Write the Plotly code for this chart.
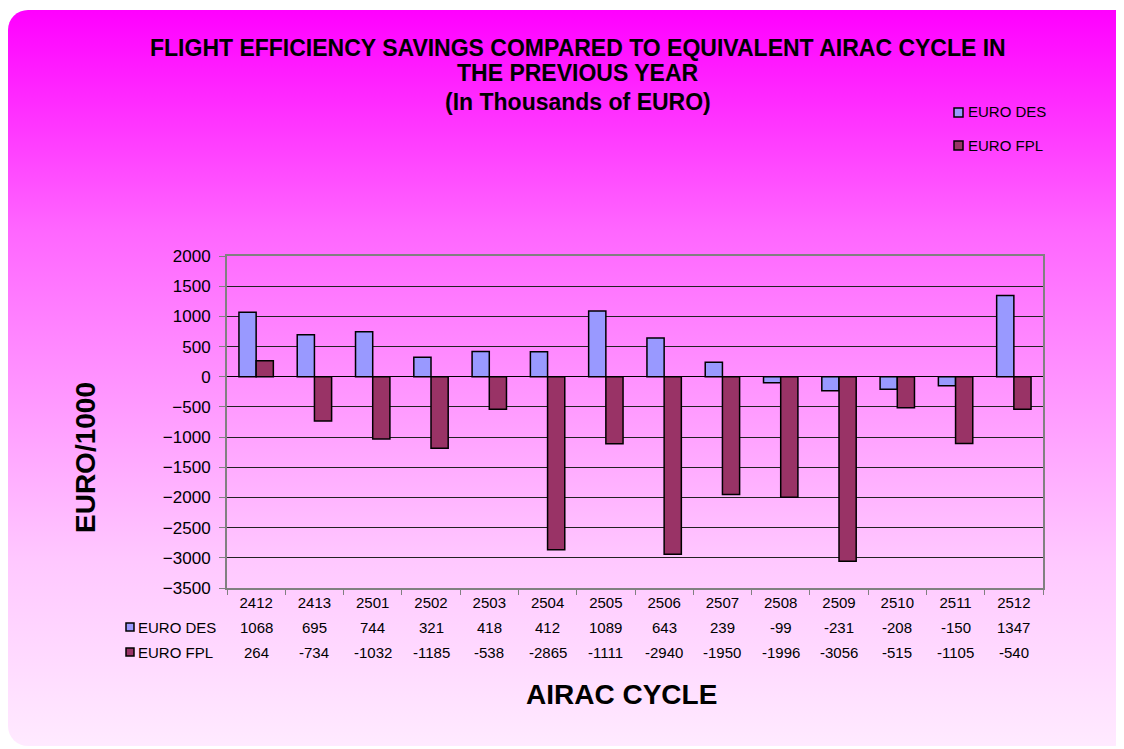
import base64
import plotly.graph_objects as go

categories = ["2412", "2413", "2501", "2502", "2503", "2504", "2505",
              "2506", "2507", "2508", "2509", "2510", "2511", "2512"]
euro_des = [1068, 695, 744, 321, 418, 412, 1089, 643, 239, -99, -231, -208, -150, 1347]
euro_fpl = [264, -734, -1032, -1185, -538, -2865, -1111, -2940, -1950, -1996, -3056, -515, -1105, -540]
series_names = ["EURO DES", "EURO FPL"]
series_colors = ["#9999FF", "#993366"]

OFF = 8  # page body margin
W, H = 1124 - OFF, 749 - OFF
# plot area in screen pixels
L, R, T, B = 227, 1043, 256, 588
PW, PH = R - L, B - T

def px(xs):
    return (xs - L) / PW

def py(ys):
    return (B - ys) / PH

FONT = "Liberation Sans, Arial, sans-serif"

# gradient rounded background as SVG image (screen coords)
bx0, by0, bx1, by1 = 8, 10, 1180, 746
svg = f'''<svg xmlns="http://www.w3.org/2000/svg" width="{bx1-bx0}" height="{by1-by0}" viewBox="0 0 {bx1-bx0} {by1-by0}" preserveAspectRatio="none">
<defs><linearGradient id="g" x1="0" y1="0" x2="0" y2="1">
<stop offset="0" stop-color="#FF00FF"/>
<stop offset="0.3" stop-color="#FF66FF"/>
<stop offset="0.58" stop-color="#FFA3FF"/>
<stop offset="0.75" stop-color="#FFC8FF"/>
<stop offset="1" stop-color="#FFEAFF"/>
</linearGradient></defs>
<rect x="0" y="0" width="{bx1-bx0}" height="{by1-by0}" rx="20" ry="20" fill="url(#g)"/>
</svg>'''
src = "data:image/svg+xml;base64," + base64.b64encode(svg.encode()).decode()

fig = go.Figure()
for name, vals, col in zip(series_names, [euro_des, euro_fpl], series_colors):
    fig.add_trace(go.Bar(x=categories, y=vals, name=name,
                         marker=dict(color=col, line=dict(color="black", width=1.5)),
                         showlegend=False))

fig.add_layout_image(dict(source=src, xref="paper", yref="paper",
                          x=px(bx0), y=py(by0), sizex=(bx1 - bx0) / PW, sizey=(by1 - by0) / PH,
                          xanchor="left", yanchor="top", sizing="stretch", layer="below"))

ann = []
# title
for txt, yy in [("FLIGHT EFFICIENCY SAVINGS COMPARED TO EQUIVALENT AIRAC CYCLE IN", 48),
                ("THE PREVIOUS YEAR", 73), ("(In Thousands of EURO)", 102)]:
    ann.append(dict(text=f"<b>{txt}</b>", xref="paper", yref="paper", x=px(578), y=py(yy),
                    xanchor="center", yanchor="middle", showarrow=False,
                    font=dict(family=FONT, size=23, color="black")))
# axis titles
ann.append(dict(text="<b>EURO/1000</b>", xref="paper", yref="paper", x=px(85), y=py(458),
                textangle=-90, xanchor="center", yanchor="middle", showarrow=False,
                font=dict(family=FONT, size=28, color="black")))
ann.append(dict(text="<b>AIRAC CYCLE</b>", xref="paper", yref="paper", x=px(621), y=py(694),
                xanchor="center", yanchor="middle", showarrow=False,
                font=dict(family=FONT, size=28, color="black")))

shapes = []
# data table
rows_y = [627, 652]
for name, vals, col, ry in zip(series_names, [euro_des, euro_fpl], series_colors, rows_y):
    ann.append(dict(text=name, xref="paper", yref="paper", x=px(136), y=py(ry),
                    xanchor="left", yanchor="middle", showarrow=False,
                    font=dict(family=FONT, size=15, color="black")))
    shapes.append(dict(type="rect", xref="paper", yref="paper", x0=px(126), x1=px(134),
                       y0=py(ry - 4), y1=py(ry + 4), fillcolor=col,
                       line=dict(color="black", width=1.5)))
    for i, v in enumerate(vals):
        ann.append(dict(text=str(v), xref="x", yref="paper", x=i, y=py(ry),
                        xanchor="center", yanchor="middle", showarrow=False,
                        font=dict(family=FONT, size=15, color="black")))

# legend top right
for name, col, ly in zip(series_names, series_colors, [112, 145]):
    ann.append(dict(text=name, xref="paper", yref="paper", x=px(966), y=py(ly),
                    xanchor="left", yanchor="middle", showarrow=False,
                    font=dict(family=FONT, size=15, color="black")))
    shapes.append(dict(type="rect", xref="paper", yref="paper", x0=px(954), x1=px(963),
                       y0=py(ly - 4), y1=py(ly + 5), fillcolor=col,
                       line=dict(color="black", width=1.5)))

fig.update_layout(
    width=W, height=H,
    margin=dict(l=L - OFF, r=W - (R - OFF), t=T - OFF, b=H - (B - OFF), pad=0),
    paper_bgcolor="white", plot_bgcolor="rgba(0,0,0,0)",
    barmode="group", bargap=0.41, bargroupgap=0,
    annotations=ann, shapes=shapes,
    font=dict(family=FONT, color="black"),
    xaxis=dict(type="category", range=[-0.5, len(categories) - 0.5], autorange=False,
               showgrid=False, showline=True, mirror=True,
               linecolor="#808080", linewidth=2, ticks="outside", tickson="boundaries",
               ticklen=5, tickcolor="#808080", tickangle=0,
               tickfont=dict(size=15, family=FONT, color="black")),
    yaxis=dict(range=[-3500, 2000], autorange=False, dtick=500, showgrid=True,
               gridcolor="#222222", gridwidth=1,
               zeroline=True, zerolinecolor="black", zerolinewidth=1,
               showline=True, mirror=True, linecolor="#808080", linewidth=2,
               ticks="outside", ticklen=6, tickcolor="#808080", ticklabelstandoff=5,
               tickfont=dict(size=17, family=FONT, color="black")),
)

fig.write_html("out.html")
